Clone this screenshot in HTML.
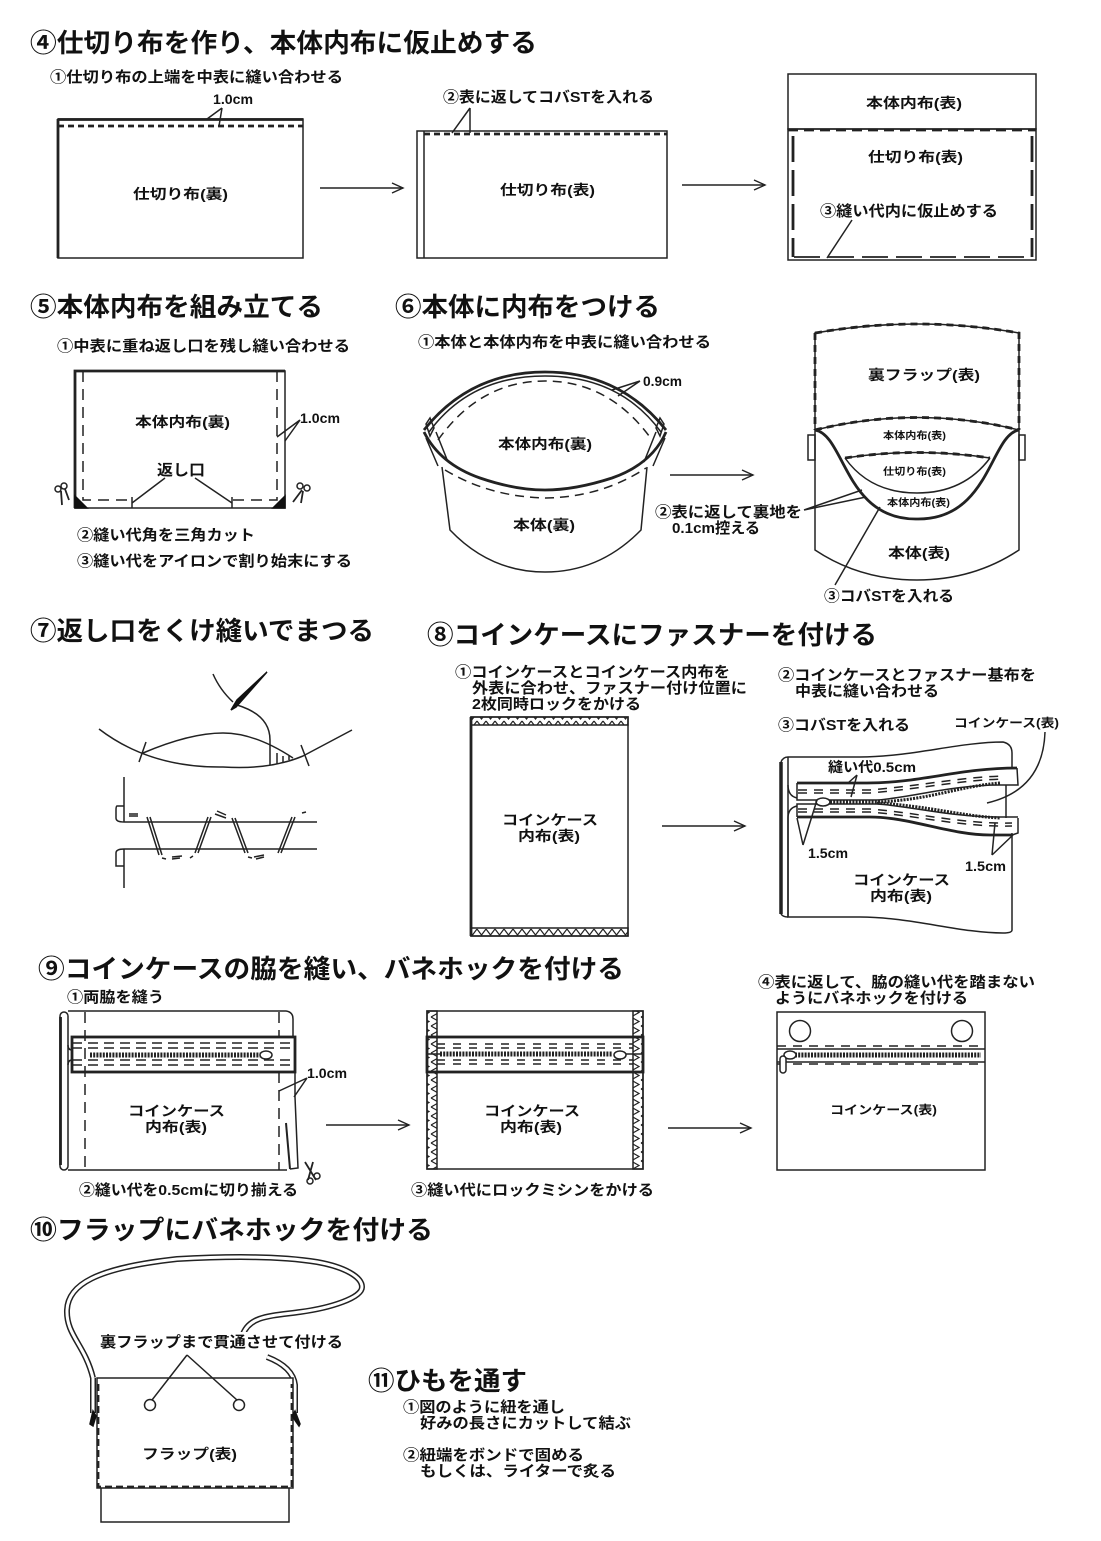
<!DOCTYPE html>
<html><head><meta charset="utf-8"><style>
html,body{margin:0;padding:0;background:#fff}
svg{display:block;filter:blur(.35px)}
text{font-family:"Liberation Sans","Noto Sans CJK JP",sans-serif;font-weight:700;fill:#111}
.t{font-size:26px}.s{font-size:15px}.l{font-size:14px}.m{font-size:10px}
.g path,.g line,.g rect,.g circle,.g polyline,.g ellipse{fill:none;stroke:#222;stroke-width:1.5}
.g .h{stroke-width:2.8}
.g .w{stroke:#222;stroke-width:6;fill:none}
.g .v{stroke:#fff;stroke-width:3;fill:none}
.g .d{stroke-dasharray:6 4}
.g .dd{stroke-dasharray:26 8}
.g .d2{stroke-dasharray:9 7}
.g .tt{stroke-width:5;stroke-dasharray:2 1.2;stroke:#222}
.g .b{fill:#111;stroke:#111}
.g .f{fill:#fff}
.g .zz{fill:url(#zv);stroke:#222}
.g .zh{fill:url(#zh);stroke:#222}
</style></head><body>
<svg width="1101" height="1541" viewBox="0 0 1101 1541" xmlns="http://www.w3.org/2000/svg">
<defs>
<pattern id="zv" width="10" height="9" patternUnits="userSpaceOnUse"><path d="M1 0L9 4.5L1 9" fill="none" stroke="#222" stroke-width="1.2"/></pattern>
<pattern id="zh" width="9" height="8" patternUnits="userSpaceOnUse"><path d="M0 1L4.5 7L9 1" fill="none" stroke="#222" stroke-width="1.2"/></pattern>
<marker id="ah" markerWidth="14" markerHeight="12" refX="12" refY="6" orient="auto" markerUnits="userSpaceOnUse"><path d="M1 1L12 6L1 11" fill="none" stroke="#222" stroke-width="1.4"/></marker>
</defs>
<rect width="1101" height="1541" fill="#fff"/>
<g class="g">
<!-- section 4 -->
<rect x="58" y="119" width="245" height="139"/><path class="h" d="M58 119.500H303"/>
<path class="h d" d="M58 126H303"/><path class="h" d="M58 119V258"/>
<path d="M222 108L207 119M222 108L219 126"/>
<path d="M320 188H403" marker-end="url(#ah)"/>
<rect x="417" y="131" width="250" height="127"/><path d="M424 131V258"/><path class="h d" d="M424 134H667"/>
<path d="M470 108L452 133M470 108V133"/>
<path d="M682 185H765" marker-end="url(#ah)"/>
<rect x="788" y="74" width="248" height="55"/><rect x="788" y="129" width="248" height="131"/>
<path class="h d" style="stroke-dasharray:10 6" d="M788 130H1036"/>
<path class="h dd" d="M793 136V257M1032 136V257"/>
<path class="h dd" style="stroke-width:1.8" d="M794 257H1032"/>
<path d="M852 220L827 258"/>
<!-- section 5 -->
<rect x="75" y="371" width="210" height="137"/><path class="h" d="M75 508V371H285"/>
<path class="d" style="stroke-dasharray:11 7" d="M83 371V500H132"/>
<path class="d" style="stroke-dasharray:11 7" d="M277 371V500H232"/>
<path d="M132 497V508M232 497V508"/>
<path d="M300 420L277 437M300 420L285 441"/>
<path d="M165 478L132 503M195 478L232 503"/>
<path class="b" d="M75 508V496L87 508Z M285 508V496L273 508Z"/>
<path class="h" style="stroke-width:1.8" d="M61 491L62 505M65 489L69 500"/><circle cx="58" cy="489" r="3"/><circle cx="64" cy="486" r="3"/>
<path class="h" style="stroke-width:1.8" d="M302 490L293 502M303 491L301 503"/><circle cx="300" cy="486" r="3"/><circle cx="307" cy="488" r="3"/>
<!-- section 6 left -->
<path d="M442 467L450 530Q490 572 545 572Q600 572 641 530L647 467"/>
<path class="d" style="stroke-dasharray:9 6" d="M445 470Q490 497 546 498Q602 497 646 468"/>
<path d="M426 438L438 466M436 432L448 462M665 438L653 466M656 432L644 462"/>
<path class="h" d="M424 430Q470 372 545 372Q620 372 666 430"/>
<path d="M429 432Q470 376 545 376Q620 376 661 432"/>
<path class="d" style="stroke-dasharray:9 6" d="M438 440Q480 381 545 381Q610 381 652 440"/>
<path class="h" d="M424 432Q440 464 480 478Q515 490 545 490Q575 490 612 478Q652 464 666 432"/>
<path d="M426 424L430 418L434 428L430 436Z M664 424L660 418L656 428L660 436Z"/>
<path d="M640 381L612 390M640 381L618 396"/>
<path d="M670 475H753" marker-end="url(#ah)"/>
<!-- section 6 right -->
<path d="M815 430V550Q860 580 917 580Q974 580 1019 550V430"/>
<path d="M815 430V333Q917 315 1019 333V430"/>
<path class="h" style="stroke-dasharray:7 5" d="M815 333Q917 315 1019 333V430"/><path class="h" style="stroke-dasharray:7 5" d="M815 333V430"/>
<path d="M815 430Q917 405 1019 430"/>
<path class="h" style="stroke-dasharray:7 5" d="M815 430Q917 405 1019 430"/>
<path d="M845 458Q917 447 990 458"/>
<path class="h" style="stroke-dasharray:7 5" d="M845 458Q917 447 990 458"/>
<path d="M845 458Q870 493 917 493Q964 493 990 458"/>
<path class="h" d="M815 430C845 435 845 520 917 519C990 520 990 435 1019 430"/>
<rect x="808" y="435" width="7" height="25"/><rect x="1019" y="435" width="6" height="25"/>
<path d="M804 510L862 490M804 510L866 497"/>
<path d="M835 585L880 507"/>
<!-- section 7 -->
<path d="M99 729Q150 768 223 767Q270 770 303 756L352 730"/>
<path d="M143 753Q190 733 223 733Q255 733 293 758"/>
<path d="M146 742L139 762M301 745L309 766"/>
<path d="M270 740V765M277 753V764M283 756V762M289 756V760"/>
<path d="M213 674Q220 690 233 702"/>
<path d="M237 705Q270 715 270 740"/>
<path class="b" d="M267 672L237 700L231 710L236 707Z"/>
<path d="M124 777V822M117 806H124M117 806Q116 806 116 810V818Q116 822 124 822H317"/>
<path d="M124 849H317M124 849Q116 849 116 853V866H124M124 849V888"/>
<path d="M147 817L159 855M150 817L162 855M208 817L195 853M211 817L198 853M232 818L245 853M235 818L248 853M292 817L278 853M295 817L281 853"/>
<path d="M129 814H138M129 816H138M215 814L226 818M217 811L226 815M172 857L182 856M172 859L180 858M254 857L264 855M256 859L264 857M302 813L306 812M162 858L166 859M190 858L193 856M248 857L252 858"/>
<!-- section 8 left -->
<rect x="471" y="717" width="157" height="219"/><path class="h" d="M471 717V936"/>
<rect class="zh" x="471" y="717" width="157" height="8"/><rect class="zh" x="471" y="928" width="157" height="8"/>
<path d="M662 826H745" marker-end="url(#ah)"/>
<!-- section 8 right -->
<path class="h" style="stroke-width:3.5" d="M781 762V914"/>
<path d="M781 762Q783 757 788 757M781 914Q783 917 788 917M788 757V917"/>
<path d="M788 757H860C910 757 960 742 1003 742Q1012 744 1012 753V767"/>
<path d="M788 785Q788 796 797 798M797 806Q788 808 788 818V917H860C910 917 960 933 1003 933Q1012 933 1012 930V833"/>
<path class="h" d="M797 783H867C920 783 960 768 1017 768"/>
<path d="M1017 768L1018 785H1000C950 785 910 798 877 800H797V783"/>
<path class="h" d="M797 817H870C910 817 950 835 990 835H1012"/>
<path d="M1018 818V833L1012 835M1018 817H1000C950 817 910 806 877 804H797V817"/>
<path d="M1006 785V818"/>
<path style="stroke-width:3;stroke-dasharray:2 1.2" d="M830 802H877C930 800 960 786 1000 783"/>
<path style="stroke-width:3;stroke-dasharray:2 1.2" d="M877 803C930 806 960 816 1000 818"/>
<path class="d2" d="M798 790H870C920 786 960 777 1005 776"/>
<path class="d2" d="M798 793H870C920 789 960 780 1005 779"/>
<path class="d2" d="M798 809H870C920 813 960 824 1012 823"/>
<path class="d2" d="M798 812H870C920 816 960 827 1012 826"/>
<ellipse class="f" cx="823" cy="802" rx="7" ry="4"/>
<path d="M857 775L848 783M857 775L851 797"/>
<path d="M1045 732Q1043 790 987 803"/>
<path d="M803 845L797 818M803 845L817 800"/>
<path d="M992 855L995 823M992 855L1013 835"/>
<!-- section 9 -->
<rect x="60" y="1012" width="8" height="158" rx="4"/><path class="h" d="M60.500 1017V1165"/>
<path d="M68 1011H286Q293 1012 293 1019V1037"/>
<path d="M68 1170H287M295 1072V1097L298 1168L290 1169"/>
<path class="h" style="stroke-width:2" d="M286 1123L290 1169"/>
<path d="M68 1045Q68 1050 72 1050M72 1060Q68 1060 68 1065"/>
<rect class="h" x="72" y="1037" width="223" height="35"/>
<path class="d" style="stroke-dasharray:10 6" d="M72 1043H295M72 1048H295M72 1060H295M72 1065H295"/>
<path class="tt" d="M90 1055H260"/>
<ellipse class="f" cx="266" cy="1055" rx="6" ry="4"/>
<path class="d" style="stroke-dasharray:11 7" d="M85 1012V1170M279 1012V1037M279 1072V1170"/>
<path d="M307 1078L279 1091M307 1078L294 1097"/>
<path class="h" style="stroke-width:1.8" d="M305 1162L316 1180M313 1162L308 1180"/><circle cx="317" cy="1176" r="3"/><circle cx="310" cy="1181" r="3"/>
<path d="M326 1125H409" marker-end="url(#ah)"/>

<rect x="427" y="1011" width="216" height="158"/>
<rect class="zz" x="427" y="1011" width="10" height="158"/><rect class="zz" x="633" y="1011" width="10" height="158"/>
<rect class="h" x="427" y="1037" width="216" height="35"/>
<path class="d" style="stroke-dasharray:8 8" d="M437 1044H633M437 1048H633M437 1060H633M437 1064H633"/>
<path class="tt" d="M440 1054H612"/>
<ellipse class="f" cx="620" cy="1055" rx="6" ry="4"/>
<path d="M427 1054H440M626 1054H643"/>
<path d="M668 1128H751" marker-end="url(#ah)"/>

<rect x="777" y="1012" width="208" height="158"/>
<circle cx="800" cy="1031" r="10.500"/><circle cx="962" cy="1031" r="10.500"/>
<path d="M777 1049H985M777 1062H985"/>
<path class="d" style="stroke-dasharray:9 7" d="M777 1046H985M777 1064H985"/>
<path class="tt" d="M795 1055H981"/>
<ellipse class="f" cx="790" cy="1055" rx="6" ry="4"/>
<rect class="f" x="780" y="1056" width="6" height="17" rx="3"/>
<!-- section 10 -->
<path class="w" d="M93 1378C85 1345 66 1335 67 1310C68 1285 95 1268 177 1259C230 1256 280 1256 317 1262C345 1267 362 1277 362 1287C362 1298 330 1308 300 1312C270 1316 250 1316 243 1334"/>
<path class="v" d="M93 1378C85 1345 66 1335 67 1310C68 1285 95 1268 177 1259C230 1256 280 1256 317 1262C345 1267 362 1277 362 1287C362 1298 330 1308 300 1312C270 1316 250 1316 243 1334"/>
<path class="w" d="M267 1357Q293 1367 295 1385V1413"/><path class="v" d="M267 1357Q293 1367 295 1385V1413"/>
<path class="w" d="M93 1378V1413"/><path class="v" d="M93 1378V1413"/>
<rect x="97" y="1378" width="196" height="110" class="f"/>
<path class="h" style="stroke-dasharray:7 4" d="M98 1384V1487H292V1384"/>
<path d="M101 1488V1522H289V1488"/>
<path class="b" d="M93 1411L96 1416L93 1426L90 1424Z M295 1411L292 1416L299 1426L300 1424Z"/>
<circle cx="150" cy="1405" r="5.500"/><circle cx="239" cy="1405" r="5.500"/>
<path d="M187 1355L152 1400M187 1355L237 1400"/>
</g>

<!-- titles -->
<text class="t" x="30" y="52" textLength="507" lengthAdjust="spacingAndGlyphs">④仕切り布を作り、本体内布に仮止めする</text>
<text class="t" x="30" y="316" textLength="293" lengthAdjust="spacingAndGlyphs">⑤本体内布を組み立てる</text>
<text class="t" x="395" y="316" textLength="265" lengthAdjust="spacingAndGlyphs">⑥本体に内布をつける</text>
<text class="t" x="30" y="640" textLength="344" lengthAdjust="spacingAndGlyphs">⑦返し口をくけ縫いでまつる</text>
<text class="t" x="427" y="644" textLength="450" lengthAdjust="spacingAndGlyphs">⑧コインケースにファスナーを付ける</text>
<text class="t" x="38" y="978" textLength="586" lengthAdjust="spacingAndGlyphs">⑨コインケースの脇を縫い、バネホックを付ける</text>
<text class="t" x="30" y="1239" textLength="403" lengthAdjust="spacingAndGlyphs">⑩フラップにバネホックを付ける</text>
<text class="t" x="368" y="1390" textLength="159" lengthAdjust="spacingAndGlyphs">⑪ひもを通す</text>

<!-- section 4 labels -->
<text class="s" x="50" y="82" textLength="293" lengthAdjust="spacingAndGlyphs">①仕切り布の上端を中表に縫い合わせる</text>
<text class="l" x="213" y="104" textLength="40" lengthAdjust="spacingAndGlyphs">1.0cm</text>
<text class="l" x="133" y="199" textLength="95" lengthAdjust="spacingAndGlyphs">仕切り布(裏)</text>
<text class="s" x="443" y="102" textLength="211" lengthAdjust="spacingAndGlyphs">②表に返してコバSTを入れる</text>
<text class="l" x="500" y="195" textLength="95" lengthAdjust="spacingAndGlyphs">仕切り布(表)</text>
<text class="l" x="866" y="108" textLength="96" lengthAdjust="spacingAndGlyphs">本体内布(表)</text>
<text class="l" x="868" y="162" textLength="95" lengthAdjust="spacingAndGlyphs">仕切り布(表)</text>
<text class="s" x="820" y="216" textLength="178" lengthAdjust="spacingAndGlyphs">③縫い代内に仮止めする</text>

<!-- section 5 labels -->
<text class="s" x="57" y="351" textLength="293" lengthAdjust="spacingAndGlyphs">①中表に重ね返し口を残し縫い合わせる</text>
<text class="l" x="135" y="427" textLength="95" lengthAdjust="spacingAndGlyphs">本体内布(裏)</text>
<text class="l" x="300" y="423" textLength="40" lengthAdjust="spacingAndGlyphs">1.0cm</text>
<text class="s" x="157" y="475" textLength="48" lengthAdjust="spacingAndGlyphs">返し口</text>
<text class="s" x="77" y="540" textLength="178" lengthAdjust="spacingAndGlyphs">②縫い代角を三角カット</text>
<text class="s" x="77" y="566" textLength="275" lengthAdjust="spacingAndGlyphs">③縫い代をアイロンで割り始末にする</text>

<!-- section 6 labels -->
<text class="s" x="418" y="347" textLength="293" lengthAdjust="spacingAndGlyphs">①本体と本体内布を中表に縫い合わせる</text>
<text class="l" x="643" y="386" textLength="39" lengthAdjust="spacingAndGlyphs">0.9cm</text>
<text class="l" x="498" y="449" textLength="94" lengthAdjust="spacingAndGlyphs">本体内布(裏)</text>
<text class="l" x="513" y="530" textLength="62" lengthAdjust="spacingAndGlyphs">本体(裏)</text>
<text class="l" x="868" y="380" textLength="112" lengthAdjust="spacingAndGlyphs">裏フラップ(表)</text>
<text class="m" x="883" y="439" textLength="63" lengthAdjust="spacingAndGlyphs">本体内布(表)</text>
<text class="m" x="883" y="475" textLength="63" lengthAdjust="spacingAndGlyphs">仕切り布(表)</text>
<text class="m" x="887" y="506" textLength="63" lengthAdjust="spacingAndGlyphs">本体内布(表)</text>
<text class="l" x="888" y="558" textLength="62" lengthAdjust="spacingAndGlyphs">本体(表)</text>
<text class="s" x="655" y="517" textLength="147" lengthAdjust="spacingAndGlyphs">②表に返して裏地を</text>
<text class="s" x="672" y="533" textLength="88" lengthAdjust="spacingAndGlyphs">0.1cm控える</text>
<text class="s" x="824" y="601" textLength="130" lengthAdjust="spacingAndGlyphs">③コバSTを入れる</text>

<!-- section 8 labels -->
<text class="s" x="455" y="677" textLength="275" lengthAdjust="spacingAndGlyphs">①コインケースとコインケース内布を</text>
<text class="s" x="472" y="693" textLength="275" lengthAdjust="spacingAndGlyphs">外表に合わせ、ファスナー付け位置に</text>
<text class="s" x="472" y="709" textLength="169" lengthAdjust="spacingAndGlyphs">2枚同時ロックをかける</text>
<text class="l" x="502" y="825" textLength="96" lengthAdjust="spacingAndGlyphs">コインケース</text>
<text class="l" x="518" y="841" textLength="62" lengthAdjust="spacingAndGlyphs">内布(表)</text>
<text class="s" x="778" y="680" textLength="258" lengthAdjust="spacingAndGlyphs">②コインケースとファスナー基布を</text>
<text class="s" x="795" y="696" textLength="144" lengthAdjust="spacingAndGlyphs">中表に縫い合わせる</text>
<text class="s" x="778" y="730" textLength="132" lengthAdjust="spacingAndGlyphs">③コバSTを入れる</text>
<text class="m" x="954" y="727" textLength="105" lengthAdjust="spacingAndGlyphs" style="font-size:12px">コインケース(表)</text>
<text class="l" x="828" y="772" textLength="88" lengthAdjust="spacingAndGlyphs">縫い代0.5cm</text>
<text class="l" x="808" y="858" textLength="40" lengthAdjust="spacingAndGlyphs">1.5cm</text>
<text class="l" x="965" y="871" textLength="41" lengthAdjust="spacingAndGlyphs">1.5cm</text>
<text class="l" x="853" y="885" textLength="97" lengthAdjust="spacingAndGlyphs">コインケース</text>
<text class="l" x="870" y="901" textLength="62" lengthAdjust="spacingAndGlyphs">内布(表)</text>

<!-- section 9 labels -->
<text class="s" x="67" y="1002" textLength="97" lengthAdjust="spacingAndGlyphs">①両脇を縫う</text>
<text class="l" x="128" y="1116" textLength="97" lengthAdjust="spacingAndGlyphs">コインケース</text>
<text class="l" x="145" y="1132" textLength="62" lengthAdjust="spacingAndGlyphs">内布(表)</text>
<text class="l" x="307" y="1078" textLength="40" lengthAdjust="spacingAndGlyphs">1.0cm</text>
<text class="s" x="79" y="1195" textLength="219" lengthAdjust="spacingAndGlyphs">②縫い代を0.5cmに切り揃える</text>
<text class="l" x="484" y="1116" textLength="96" lengthAdjust="spacingAndGlyphs">コインケース</text>
<text class="l" x="500" y="1132" textLength="62" lengthAdjust="spacingAndGlyphs">内布(表)</text>
<text class="s" x="411" y="1195" textLength="243" lengthAdjust="spacingAndGlyphs">③縫い代にロックミシンをかける</text>
<text class="s" x="758" y="987" textLength="277" lengthAdjust="spacingAndGlyphs">④表に返して、脇の縫い代を踏まない</text>
<text class="s" x="775" y="1003" textLength="193" lengthAdjust="spacingAndGlyphs">ようにバネホックを付ける</text>
<text class="m" x="830" y="1114" textLength="107" lengthAdjust="spacingAndGlyphs" style="font-size:12px">コインケース(表)</text>

<!-- section 10 / 11 labels -->
<rect x="98" y="1332" width="248" height="20" fill="#fff"/>
<text class="s" x="100" y="1347" textLength="243" lengthAdjust="spacingAndGlyphs">裏フラップまで貫通させて付ける</text>
<text class="l" x="142" y="1459" textLength="95" lengthAdjust="spacingAndGlyphs">フラップ(表)</text>
<text class="s" x="403" y="1412" textLength="162" lengthAdjust="spacingAndGlyphs">①図のように紐を通し</text>
<text class="s" x="420" y="1428" textLength="211" lengthAdjust="spacingAndGlyphs">好みの長さにカットして結ぶ</text>
<text class="s" x="403" y="1460" textLength="181" lengthAdjust="spacingAndGlyphs">②紐端をボンドで固める</text>
<text class="s" x="420" y="1476" textLength="196" lengthAdjust="spacingAndGlyphs">もしくは、ライターで炙る</text>
</svg>
</body></html>
